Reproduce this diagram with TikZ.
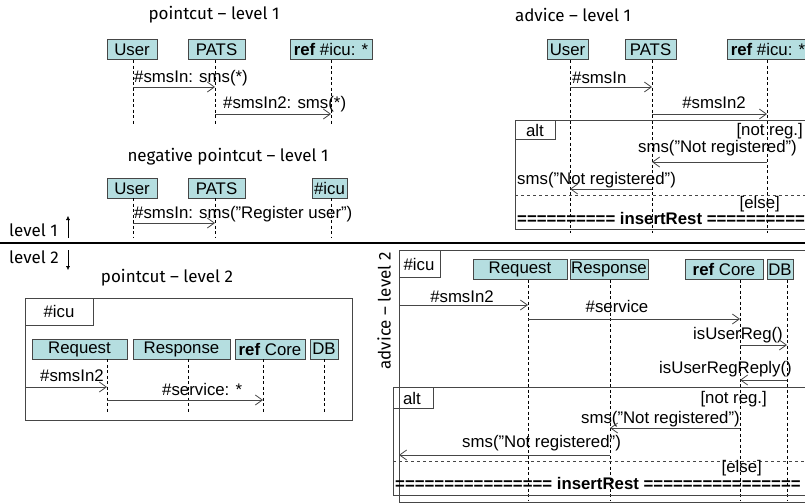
\documentclass[tikz,border=0pt]{standalone}
\usepackage{fontspec}
\setmainfont{Liberation Sans}
\newfontfamily\ttlfont{Fira Sans}
\usepackage{xcolor}
\definecolor{boxfill}{RGB}{181,222,224}
\definecolor{linegray}{RGB}{70,70,70}
\usetikzlibrary{arrows.meta}
\newcommand{\lbox}[4]{\node[lifebox,minimum width=#3] (#1) at (#2) {#4};}
\newcommand{\lline}[4]{\coordinate (#1) at (#2,#3); \draw[life] (#1) -- (#2,#4);}
\newcommand{\msg}[3]{\draw[msg] (#1 |- 0,#3) -- (#2 |- 0,#3);}

\begin{document}
\begin{tikzpicture}[x=1pt,y=-1pt,
  lifebox/.style={draw=linegray,fill=boxfill,minimum height=20pt,inner sep=0pt,font=\fontsize{16.8}{19}\selectfont},
  life/.style={dash pattern=on 3pt off 2.5pt,line width=0.7pt},
  msg/.style={draw=linegray,line width=0.8pt,-{Straight Barb[length=7pt,width=10pt]}},
  frm/.style={draw=linegray,line width=0.8pt},
  lbl/.style={inner sep=0pt,font=\fontsize{16.8}{19}\selectfont},
  ttl/.style={inner sep=0pt,font=\ttlfont\fontsize{17}{20}\selectfont}]
\useasboundingbox (0,0) rectangle (805,503);
% ---- LEVEL 1 ----
% pointcut
\begin{scope}
\node[ttl] (t1) at (214,15) {pointcut – level 1};
\lbox{u1}{132,49.5}{50pt}{User}
\lbox{p1}{216.5,49.5}{57pt}{PATS}
\lbox{i1}{331,49.5}{82pt}{\textbf{ref} \#icu: *}
\lline{lu1}{133}{60}{125}
\lline{lp1}{215}{60}{125}
\lline{li1}{331}{60}{125}
\node[lbl,anchor=base west] (m11) at (134,82) {\#smsIn: sms(*)};
\msg{lu1}{lp1}{87}
\node[lbl,anchor=base west] (m12) at (223,108) {\#smsIn2: sms(*)};
\msg{lp1}{li1}{114}
\end{scope}
% negative pointcut
\begin{scope}
\node[ttl] (t2) at (228,157) {negative pointcut – level 1};
\lbox{u2}{132,188.5}{50pt}{User}
\lbox{p2}{216.5,188.5}{57pt}{PATS}
\lbox{i2}{329.5,188.5}{35pt}{\#icu}
\lline{lu2}{133}{198}{237}
\lline{lp2}{215}{198}{237}
\lline{li2}{331}{198}{237}
\node[lbl,anchor=base west] (m21) at (134,218) {\#smsIn: sms("Register user")};
\msg{lu2}{lp2}{223}
\end{scope}
% advice
\begin{scope}
\node[ttl] (t3) at (573,15) {advice – level 1};
\lbox{u3}{567.5,49.5}{41pt}{User}
\lbox{p3}{650.5,49.5}{51pt}{PATS}
\lbox{i3}{768,49.5}{82pt}{\textbf{ref} \#icu: *}
\lline{lu3}{570}{60}{233}
\lline{lp3}{652}{60}{233}
\lline{li3}{767}{60}{233}
\node[lbl,anchor=base west] (m31) at (572,83) {\#smsIn};
\msg{lu3}{lp3}{87}
\node[lbl,anchor=base] (m32) at (714,108) {\#smsIn2};
\msg{lp3}{li3}{114}
\draw[frm] (515,120) rectangle (830,229);
\draw[frm] (515,120) rectangle (555,139);
\node[lbl] (alt3) at (535,130) {alt};
\node[lbl,anchor=base east] (g31) at (803,135) {[not reg.]};
\node[lbl,anchor=base east] (m33) at (797,152) {sms("Not registered")};
\msg{li3}{lp3}{162}
\node[lbl,anchor=base west] (m34) at (517,184) {sms("Not registered")};
\msg{lp3}{lu3}{189}
\draw[frm,dashed] (515,195) -- (830,195);
\node[lbl,anchor=base east] (g32) at (780,208) {[else]};
\node[lbl,anchor=base west,font=\bfseries\fontsize{16.8}{19}\selectfont] (r3) at (517,224) {========== insertRest ==========};
\end{scope}
% ---- separator ----
\node[ttl,anchor=west] (lv1) at (9,230) {level 1};
\node[ttl,anchor=west] (lv2) at (9,257) {level 2};
\draw[-{Latex[length=4pt,width=4pt]}] (68,238) -- (68,216);
\draw[-{Latex[length=4pt,width=4pt]}] (68,250) -- (68,270);
\draw[line width=2pt] (0,243) -- (805,243);
% ---- LEVEL 2 ----
% pointcut
\begin{scope}
\node[ttl] (t4) at (167,278) {pointcut – level 2};
\coordinate (f4) at (25,298);
\draw[frm] (f4) rectangle (352,420);
\draw[frm] (f4) rectangle (93,325);
\node[lbl] (c4) at (59,311) {\#icu};
\lbox{rq4}{79.5,349}{95pt}{Request}
\lbox{rs4}{181.5,349}{97pt}{Response}
\lbox{co4}{270,349}{70pt}{\textbf{ref} Core}
\lbox{db4}{324,349}{28pt}{DB}
\lline{lrq4}{107}{359}{412}
\lline{lrs4}{188}{359}{412}
\lline{lco4}{263}{359}{412}
\lline{ldb4}{324}{359}{412}
\node[lbl,anchor=base west] (m41) at (40,381) {\#smsIn2};
\msg{f4}{lrq4}{387}
\node[lbl,anchor=base west] (m42) at (162,395) {\#service: *};
\msg{lrq4}{lco4}{400}
\end{scope}
% advice
\begin{scope}
\node[ttl,rotate=90] (t5) at (384,311) {advice – level 2};
\coordinate (f5) at (399,250);
\draw[frm] (f5) rectangle (830,502);
\draw[frm] (f5) rectangle (440,277);
\node[lbl] (c5) at (419,264) {\#icu};
\lbox{rq5}{520,269.5}{94pt}{Request}
\lbox{rs5}{609,269.5}{78pt}{Response}
\lbox{co5}{724,269.5}{78pt}{\textbf{ref} Core}
\lbox{db5}{780,269.5}{26pt}{DB}
\lline{lrq5}{528}{279.5}{500}
\lline{lrs5}{610}{279.5}{500}
\lline{lco5}{740}{279.5}{500}
\lline{ldb5}{787}{279.5}{500}
\node[lbl,anchor=base] (m51) at (462,302) {\#smsIn2};
\msg{f5}{lrq5}{305}
\node[lbl,anchor=base] (m52) at (617,312) {\#service};
\msg{lrq5}{lco5}{319}
\node[lbl,anchor=base east] (m53) at (783,339) {isUserReg()};
\msg{lco5}{ldb5}{345}
\node[lbl,anchor=base east] (m54) at (792,373) {isUserRegReply()};
\msg{ldb5}{lco5}{380}
\draw[frm] (393,387) rectangle (830,495);
\draw[frm] (393,387) rectangle (433,408);
\node[lbl] (alt5) at (412,398) {alt};
\node[lbl,anchor=base east] (g51) at (767,403) {[not reg.]};
\node[lbl,anchor=base east] (m55) at (740,423) {sms("Not registered")};
\msg{lco5}{lrs5}{428}
\node[lbl,anchor=base west] (m56) at (462,447) {sms("Not registered")};
\msg{lrs5}{f5}{455}
\draw[frm,dashed] (393,461) -- (830,461);
\node[lbl,anchor=base east] (g52) at (762,472) {[else]};
\node[lbl,anchor=base west,font=\bfseries\fontsize{16.8}{19}\selectfont] (r5) at (395,489) {================ insertRest ================};
\end{scope}
\end{tikzpicture}
\end{document}
